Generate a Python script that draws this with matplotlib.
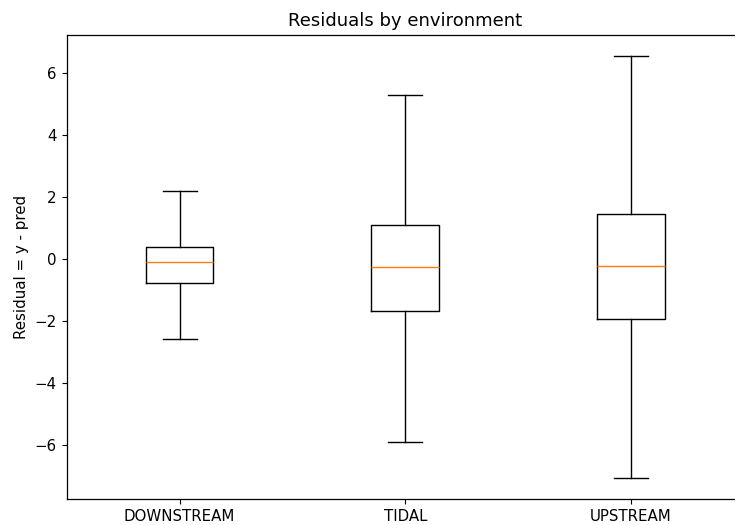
import matplotlib
matplotlib.use("Agg")
import matplotlib.pyplot as plt

plt.rcParams["font.size"] = 10.8
plt.rcParams["axes.linewidth"] = 0.9
plt.rcParams["lines.linewidth"] = 1.1

categories = ["DOWNSTREAM", "TIDAL", "UPSTREAM"]
whislo = [-2.59, -5.89, -7.06]
q1 = [-0.77, -1.69, -1.94]
med = [-0.10, -0.25, -0.23]
q3 = [0.38, 1.10, 1.45]
whishi = [2.19, 5.28, 6.55]

stats = []
for i, c in enumerate(categories):
    stats.append(dict(label=c, whislo=whislo[i], q1=q1[i], med=med[i],
                      q3=q3[i], whishi=whishi[i], fliers=[]))

fig = plt.figure(figsize=(7.35, 5.25), dpi=100)
left, right, top, bottom = 66.7 / 735, 744 / 735, 1 - 34.5 / 525, 1 - 499 / 525
ax = fig.add_axes([left, bottom, right - left, top - bottom])
ax.bxp(stats, showfliers=False)
ax.spines["right"].set_visible(False)
ax.set_title("Residuals by environment")
ax.set_ylabel("Residual = y - pred")
fig.savefig("out.png", dpi=100)
